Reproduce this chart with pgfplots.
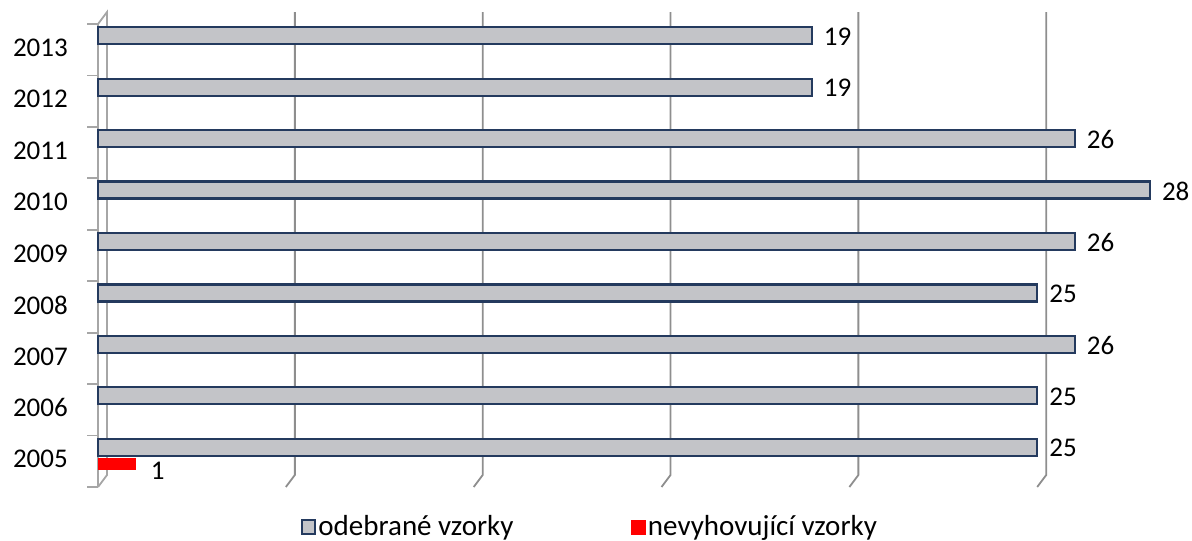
\documentclass[border=0pt]{standalone}
\usepackage{pgfplots}
\pgfplotsset{compat=1.18}
\usepackage{fontspec}
\setmainfont{Carlito}
\definecolor{barnavy}{HTML}{243A5E}
\definecolor{gridc}{HTML}{8E8E8E}
\definecolor{axc}{HTML}{A6A6A6}
\definecolor{barmid}{HTML}{C3C4C8}
\begin{document}
\fontsize{27}{32}\selectfont
\begin{tikzpicture}[x=1pt,y=1pt]
\useasboundingbox (-98,-54) rectangle (1094,487);
\begin{axis}[
  at={(0pt,0pt)}, anchor=south west,
  scale only axis, width=1070.7pt, height=463pt,
  xmin=0, xmax=28.5, ymin=-0.5, ymax=8.5,
  clip=false,
  axis line style={draw=none},
  xtick=\empty,
  ytick={0,...,8},
  yticklabels={2005,2006,2007,2008,2009,2010,2011,2012,2013},
  major tick length=0pt,
  tick style={draw=none},
  yticklabel style={inner sep=0pt, xshift=-30pt, yshift=2pt, font=\fontsize{27}{32}\selectfont},
  /pgf/number format/assume math mode=true,
  legend style={at={(0.1868,-0.0864)}, anchor=west, draw=none, fill=none,
    legend columns=2, font=\fontsize{29}{34}\selectfont,
    /tikz/every even column/.append style={column sep=116pt}},
  legend cell align=left,
]
% back-wall gridlines with floor slant
\draw[gridc, line width=1.8pt] (axis cs:5.24,8.733) -- (axis cs:5.24,-0.267) -- (axis cs:5,-0.5);
\draw[gridc, line width=1.8pt] (axis cs:10.24,8.733) -- (axis cs:10.24,-0.267) -- (axis cs:10,-0.5);
\draw[gridc, line width=1.8pt] (axis cs:15.24,8.733) -- (axis cs:15.24,-0.267) -- (axis cs:15,-0.5);
\draw[gridc, line width=1.8pt] (axis cs:20.24,8.733) -- (axis cs:20.24,-0.267) -- (axis cs:20,-0.5);
\draw[gridc, line width=1.8pt] (axis cs:25.24,8.733) -- (axis cs:25.24,-0.267) -- (axis cs:25,-0.5);
% left axis (3D)
\draw[axc, line width=1.8pt] (axis cs:0,-0.5) -- (axis cs:0,8.5) -- (axis cs:0.24,8.733) -- (axis cs:0.24,-0.267) -- (axis cs:0,-0.5);
\pgfplotsinvokeforeach{-0.5,0.5,1.5,2.5,3.5,4.5,5.5,6.5,7.5,8.5}{
  \draw[axc, line width=1.8pt] (axis cs:0,#1) -- ++(-11pt,0pt);
}
\addplot[xbar, bar width=17pt, bar shift=14pt, draw=barnavy, line width=2.2pt,
  fill=barmid,
  legend image code/.code={\draw[draw=barnavy, fill=barmid, line width=2.2pt] (-3pt,-7pt) rectangle (10pt,7pt);},
  nodes near coords,
  every node near coord/.append style={anchor=west, xshift=2pt, yshift=13pt, text=black,
    font=\fontsize{27}{32}\selectfont}]
  coordinates {(25,0) (25,1) (26,2) (25,3) (26,4) (28,5) (26,6) (19,7) (19,8)};
\addplot[xbar, bar width=11pt, bar shift=-2pt, fill=red, draw=red, line width=0.5pt,
  legend image code/.code={\fill[red] (-3pt,-7pt) rectangle (11pt,7pt);},
  nodes near coords,
  every node near coord/.append style={anchor=west, xshift=6pt, yshift=-10pt, text=black,
    font=\fontsize{27}{32}\selectfont}]
  coordinates {(1,0)};
\legend{odebrané vzorky, nevyhovující vzorky}
\end{axis}
\end{tikzpicture}
\end{document}
